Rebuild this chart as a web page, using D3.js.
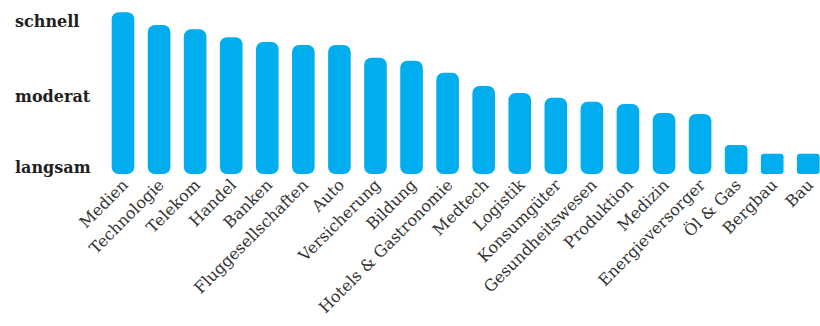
<!DOCTYPE html>
<html><head><meta charset="utf-8">
<script src="https://cdn.jsdelivr.net/npm/d3@7"></script>
<style>html,body{margin:0;padding:0;background:#fff;}svg{display:block;}</style>
</head><body>
<svg id="chart" width="820" height="326"></svg>
<script>
const categories = ["Medien","Technologie","Telekom","Handel","Banken","Fluggesellschaften","Auto","Versicherung","Bildung","Hotels & Gastronomie","Medtech","Logistik","Konsumgüter","Gesundheitswesen","Produktion","Medizin","Energieversorger","Öl & Gas","Bergbau","Bau"];
const values = [98.6,90.9,88.2,83.4,80.5,78.7,78.7,70.9,69.1,61.8,53.7,49.4,46.5,44.1,42.7,37.2,36.6,17.7,12.4,12.4];
const yTickLabels = ["langsam","moderat","schnell"];
const yTickValues = [0.6,44.1,89.8];

const svg = d3.select("#chart");
const x = d3.scaleBand().domain(categories).range([111.7, 819.6]).paddingInner(0.373).paddingOuter(0);
const y = d3.scaleLinear().domain([0,100]).range([174,10]);

svg.append("g").selectAll("rect").data(categories).join("rect")
  .attr("x", d => x(d))
  .attr("width", x.bandwidth())
  .attr("y", (d,i) => y(values[i]))
  .attr("height", (d,i) => y(0) - y(values[i]))
  .attr("rx", (d,i) => Math.min(7, (y(0)-y(values[i]))*0.15))
  .attr("fill", "#00AEEF");

svg.append("g").selectAll("text").data(yTickLabels).join("text")
  .attr("x", 15).attr("y", (d,i) => y(yTickValues[i]))
  .attr("font-family", "DejaVu Serif").attr("font-weight", "bold")
  .attr("font-size", 16).attr("fill", "#231f20")
  .text(d => d);

svg.append("g").selectAll("text").data(categories).join("text")
  .attr("transform", d => `translate(${x(d) + x.bandwidth()/2 + 6},${186}) rotate(-45)`)
  .attr("text-anchor", "end")
  .attr("font-family", "DejaVu Serif")
  .attr("font-size", 16).attr("fill", "#333")
  .text(d => d);
</script>
</body></html>
